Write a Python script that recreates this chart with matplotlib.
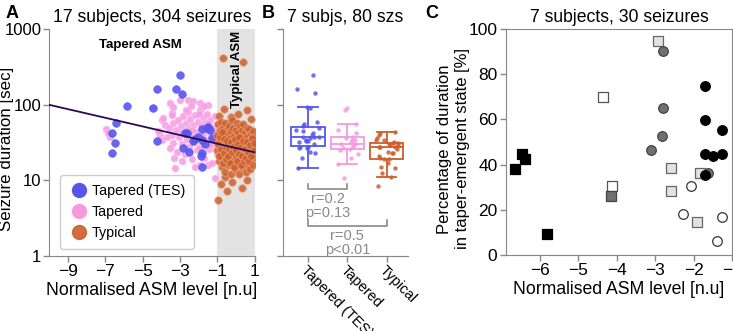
import matplotlib.pyplot as plt
import numpy as np
from matplotlib.lines import Line2D

plt.rcParams['font.family'] = ['Liberation Sans', 'DejaVu Sans']

# ---------------- panel A data: (ASM level, duration in sec) ----------------
tes_x = [-6.42, -6.64, -6.48, -6.64, -5.84, -4.45, -4.23, -4.23, -3.0, -3.2,
         -2.9, -2.74, -2.63, -2.31, -2.85, -1.56, -1.83, -1.5, -1.4, -1.83,
         -1.88, -1.83, -1.83, -2.05, -2.2, -1.65, -2.5, -1.3]
tes_y = [57, 42, 31, 23, 96, 91, 160, 33, 245, 160,
         140, 42, 42, 33, 27, 49, 48, 51, 46, 34,
         21, 23, 15, 38, 35, 30, 24, 36]

tap_x = [-6.96, -6.75, -6.85, -4.5, -3.54, -3.97, -3.81, -4.07, -3.97, -3.43,
         -3.38, -3.2, -3.43, -3.38, -3.54, -3.27, -3.92, -3.43, -3.0, -2.58,
         -2.31, -1.94, -1.51, -3.38, -1.94, -1.5, -1.13,
         -3.1, -3.05, -2.95, -2.9, -2.85, -2.8, -2.75, -2.7, -2.65, -2.6,
         -2.55, -2.5, -2.45, -2.4, -2.35, -2.3, -2.25, -2.2, -2.15, -2.1,
         -2.05, -2.0, -1.95, -1.9, -1.85, -1.8, -1.75, -1.7, -1.65, -1.6,
         -1.55, -1.5, -1.45, -1.4, -1.35, -1.3, -1.25, -1.2, -1.15, -1.1,
         -1.05, -1.0, -3.15, -2.92, -2.68, -2.42, -2.18, -1.98, -1.72, -1.48,
         -1.22, -2.88, -2.62, -2.38, -2.12, -1.88, -1.62, -1.38, -1.12, -3.3,
         -3.6, -4.2, -3.7, -2.0]
tap_y = [48, 37, 42, 91, 105, 63, 54, 40, 34, 78,
         57, 46, 40, 31, 27, 14.5, 66, 73, 115, 117,
         112, 105, 100, 93, 16, 16, 10.7,
         62, 38, 52, 30, 70, 45, 22, 58, 35, 80,
         48, 28, 65, 40, 19, 54, 32, 74, 44, 25,
         60, 37, 86, 52, 29, 68, 41, 20, 57, 34,
         75, 45, 26, 62, 38, 17, 50, 31, 70, 42,
         23, 55, 24, 18, 85, 95, 15, 27, 95, 58,
         36, 42, 26, 47, 36, 40, 48, 29, 33, 20,
         50, 45, 37, 75]

typ_x = [-0.71, 0.36, -0.65, 0.57, -0.9, 0.1, -0.3, 0.8, -0.98, 0.3,
         -0.5, -0.8, -0.2, 0.6, -0.6,
         -1.05, -1.0, -0.95, -0.92, -0.9, -0.87, -0.85, -0.82, -0.8, -0.78,
         -0.75, -0.72, -0.7, -0.68, -0.65, -0.62, -0.6, -0.58, -0.55, -0.52,
         -0.5, -0.48, -0.45, -0.42, -0.4, -0.38, -0.35, -0.32, -0.3, -0.28,
         -0.25, -0.22, -0.2, -0.18, -0.15, -0.12, -0.1, -0.08, -0.05, -0.02,
         0.0, 0.02, 0.05, 0.08, 0.1, 0.12, 0.15, 0.18, 0.2, 0.22,
         0.25, 0.28, 0.3, 0.32, 0.35, 0.38, 0.4, 0.42, 0.45, 0.48,
         0.5, 0.52, 0.55, 0.58, 0.6, 0.62, 0.65, 0.68, 0.7, 0.72,
         0.75, 0.78, 0.8, 0.82, 0.85, 0.88, 0.9, 0.92, 0.95,
         -0.98, -0.93, -0.88, -0.83, -0.77, -0.73, -0.67, -0.63, -0.57, -0.53,
         -0.47, -0.43, -0.37, -0.33, -0.27, -0.23, -0.17, -0.13, -0.07, -0.03,
         0.03, 0.07, 0.13, 0.17, 0.23, 0.27, 0.33, 0.37, 0.43, 0.47,
         0.53, 0.57, 0.63, 0.67, 0.73, 0.77, 0.83, 0.87, 0.93, 0.97]
typ_y = [415, 365, 87, 85, 72, 75, 68, 65, 5.5, 8,
         7.2, 9, 9.5, 10, 11,
         40, 25, 55, 18, 33, 46, 22, 60, 28, 15,
         38, 50, 20, 31, 44, 13, 26, 57, 35, 19,
         48, 24, 40, 16, 30, 53, 22, 36, 12, 45,
         27, 62, 18, 33, 50, 23, 39, 14, 29, 47,
         21, 34, 58, 17, 26, 42, 12, 31, 52, 20,
         37, 24, 46, 15, 29, 55, 19, 35, 25, 43,
         13, 30, 50, 21, 38, 16, 27, 48, 23, 34,
         14, 41, 26, 19, 32, 45, 22, 29, 37,
         30, 21, 38, 26, 44, 17, 23, 35, 19, 28,
         33, 21, 26, 17, 32, 24, 28, 15, 35, 25,
         18, 30, 22, 38, 16, 28, 21, 33, 18, 26,
         20, 32, 24, 18, 29, 21, 36, 16, 25, 31]

# log10(duration) = slope * level + intercept
fit_slope = -0.0573
fit_intercept = 1.427

# ---------------- panel B data: durations [sec] ----------------
groups_b = ['Tapered (TES)', 'Tapered', 'Typical']
dur_tes = [14.5, 20, 23, 24, 27, 27, 28, 28, 30, 32, 33, 33, 34, 36, 37,
           37, 38, 40, 42, 45, 47, 50, 52, 56, 60, 90, 93, 142, 160, 245]
dur_tap = [10.7, 16.3, 19.5, 22.5, 25, 26, 27, 28, 29, 30, 30, 32, 34, 34,
           36, 37, 42, 46, 56, 85, 91]
dur_typ = [8.3, 11, 12.5, 14.5, 15, 17, 19, 19, 19.5, 21, 23, 23, 24, 26,
           27.5, 28, 28, 29, 29, 30, 31, 31, 32, 34, 34, 36, 40, 42.5, 43]

# ---------------- panel C data: one list per subject ----------------
c_subj_x = [
    [-6.45, -6.38, -6.63, -5.81],            # black squares
    [-4.35, -4.13],                          # white squares
    [-4.14],                                 # dark grey square
    [-2.94, -2.59, -1.83, -2.59, -1.92],     # light grey squares
    [-2.81, -2.81, -2.82, -3.11, -1.63],     # grey circles
    [-1.72, -1.72, -1.27, -1.72, -1.50, -1.26, -1.71],  # black circles
    [-2.06, -2.28, -1.27, -1.39],            # white circles
]
c_subj_y = [
    [44.5, 42.5, 38.0, 9.3],
    [69.8, 30.4],
    [26.0],
    [94.7, 38.4, 36.4, 28.5, 14.4],
    [90.3, 64.9, 52.6, 46.5, 36.4],
    [74.9, 59.9, 55.3, 44.5, 43.8, 44.8, 35.4],
    [30.4, 18.0, 16.8, 6.3],
]
c_marker = ['s', 's', 's', 's', 'o', 'o', 'o']
c_face = ['black', 'white', '#707070', '#e2e2e2', '#707070', 'black', 'white']
c_edge = ['black', '#555555', '#444444', '#666666', '#444444', 'black', '#333333']

col_tes = '#5656ee'
col_tap = '#f59ae2'
col_typ = '#cc5e2c'
spine_col = '#888888'

fig = plt.figure(figsize=(7.33, 3.31), dpi=100)


def style_axes(ax):
    for s in ax.spines.values():
        s.set_color(spine_col)
    ax.tick_params(colors=spine_col, labelcolor='black', labelsize=12.5,
                   length=4, width=1, pad=2)


# ---------------- A ----------------
axA = fig.add_axes([0.0668, 0.2266, 0.281, 0.6854])
axA.axvspan(-1, 1, color='#e3e3e3', zorder=0, lw=0)
axA.scatter(tap_x, tap_y, s=26, color=col_tap, alpha=0.85, edgecolors='#fbc9ef',
            linewidths=0.5, zorder=2)
axA.scatter(tes_x, tes_y, s=30, color=col_tes, alpha=0.9, edgecolors=col_tes,
            linewidths=0.5, zorder=3)
axA.scatter(typ_x, typ_y, s=30, color=col_typ, alpha=0.85, edgecolors='#eaa57e',
            linewidths=0.6, zorder=3)
lx = np.array([-10, 1])
axA.plot(lx, 10 ** (fit_slope * lx + fit_intercept), color='#2a0a55', lw=1.3, zorder=4)
axA.set_yscale('log')
axA.set_ylim(1, 1000)
axA.set_xlim(-10, 1)
axA.set_yticks([1, 10, 100, 1000])
axA.set_yticklabels(['1', '10', '100', '1000'])
axA.minorticks_off()
axA.set_xticks([-9, -7, -5, -3, -1, 1])
axA.spines['top'].set_visible(False)
axA.spines['right'].set_visible(False)
style_axes(axA)
axA.tick_params(axis='y', labelsize=12, pad=1.5)
axA.set_xlabel('Normalised ASM level [n.u]', fontsize=12.7, labelpad=2)
axA.set_ylabel('Seizure duration [sec]', fontsize=12.2)
axA.yaxis.set_label_coords(-0.172, 0.47)
axA.set_title('17 subjects, 304 seizures', fontsize=12.7, pad=5)
axA.text(-5.1, 620, 'Tapered ASM', fontsize=9.5, fontweight='bold',
         ha='center', va='center')
axA.text(0.05, 960, 'Typical ASM', fontsize=9.5, fontweight='bold', rotation=90,
         ha='center', va='top')
handles = [Line2D([], [], ls='', marker='o', ms=10, color=col_tes),
           Line2D([], [], ls='', marker='o', ms=10, color=col_tap),
           Line2D([], [], ls='', marker='o', ms=10, color=col_typ, alpha=0.9)]
axA.legend(handles, ['Tapered (TES)', 'Tapered', 'Typical'], loc='lower left',
           bbox_to_anchor=(0.02, 0.0), fontsize=10.3, handletextpad=0.2,
           borderpad=0.6, labelspacing=0.5, handlelength=1.4,
           edgecolor='#cccccc', framealpha=1)

# ---------------- B ----------------
axB = fig.add_axes([0.386, 0.2266, 0.171, 0.6854])
data_b = [np.log10(dur_tes), np.log10(dur_tap), np.log10(dur_typ)]
cols_b = [col_tes, col_tap, col_typ]
rng = np.random.default_rng(3)
for i, (d, c) in enumerate(zip(data_b, cols_b)):
    bp = axB.boxplot([d], positions=[i], widths=0.85, showfliers=False,
                     capwidths=0.5, patch_artist=True)
    for k in ['boxes', 'whiskers', 'caps', 'medians']:
        for a in bp[k]:
            a.set_color(c)
            a.set_linewidth(1.3)
    bp['boxes'][0].set_facecolor('none')
    jit = rng.uniform(-0.3, 0.3, len(d))
    axB.scatter(i + jit, d, s=10, color=c, alpha=0.85, lw=0, zorder=3)
axB.set_ylim(0, 3)
axB.set_xlim(-0.64, 2.55)
axB.set_yticks([0, 1, 2, 3])
axB.set_yticklabels([])
axB.set_xticks([0, 1, 2])
axB.set_xticklabels(groups_b, rotation=-45, ha='left', rotation_mode='anchor')
axB.spines['top'].set_visible(False)
axB.spines['right'].set_visible(False)
style_axes(axB)
axB.tick_params(axis='x', labelsize=10.5, pad=1)
axB.set_title('7 subjs, 80 szs', fontsize=12.7, pad=5)

# significance brackets
gcol = '#8a8a8a'
axB.plot([0, 0, 1, 1], [0.95, 0.88, 0.88, 0.95], color=gcol, lw=1.2)
axB.text(0.5, 0.84, 'r=0.2\np=0.13', ha='center', va='top', color=gcol,
         fontsize=10.5, linespacing=1.0)
axB.plot([0, 0, 2, 2], [0.47, 0.40, 0.40, 0.47], color=gcol, lw=1.2)
axB.text(1.0, 0.36, 'r=0.5\np<0.01', ha='center', va='top', color=gcol,
         fontsize=10.5, linespacing=1.0)

# ---------------- C ----------------
axC = fig.add_axes([0.690, 0.2296, 0.309, 0.6824])
for xs, ys, m, fc, ec in zip(c_subj_x, c_subj_y, c_marker, c_face, c_edge):
    axC.scatter(xs, ys, marker=m, s=48, facecolors=fc, edgecolors=ec,
                linewidths=0.9, zorder=3)
axC.set_xlim(-6.88, -1)
axC.set_ylim(0, 100)
axC.set_xticks([-6, -5, -4, -3, -2, -1])
axC.set_yticks([0, 20, 40, 60, 80, 100])
style_axes(axC)
axC.set_xlabel('Normalised ASM level [n.u]', fontsize=12.7, labelpad=2)
axC.set_ylabel('Percentage of duration\nin taper-emergent state [%]',
               fontsize=12, linespacing=1.2)
axC.yaxis.set_label_coords(-0.16, 0.47)
axC.set_title('7 subjects, 30 seizures', fontsize=12.7, pad=5)

# panel letters
fig.text(0.007, 0.985, 'A', fontsize=13, fontweight='bold', va='top')
fig.text(0.357, 0.985, 'B', fontsize=13, fontweight='bold', va='top')
fig.text(0.580, 0.985, 'C', fontsize=13, fontweight='bold', va='top')

fig.savefig('out.png', dpi=100)
